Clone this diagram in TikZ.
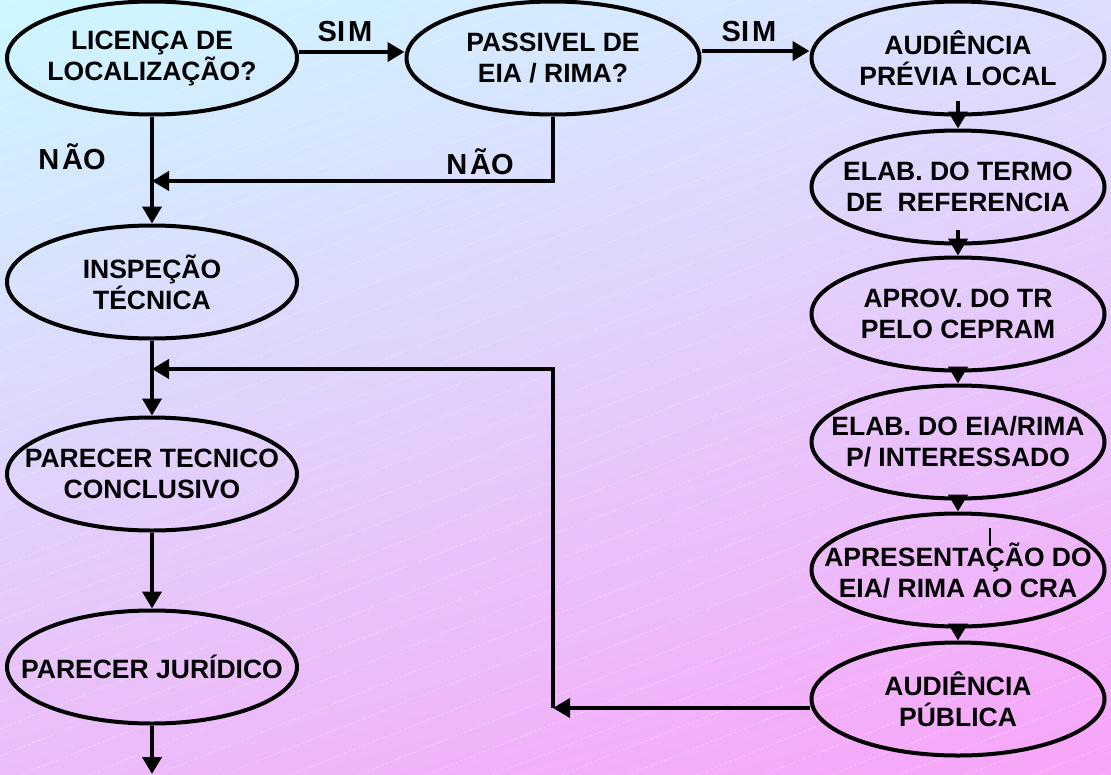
\documentclass[tikz,border=0pt]{standalone}
\usepackage{fontspec}
\setmainfont{Liberation Sans}
\usetikzlibrary{arrows.meta,shapes.geometric,shadings}
\definecolor{bgtl}{RGB}{204,248,255}
\definecolor{bgtr}{RGB}{220,222,255}
\definecolor{bgbl}{RGB}{236,188,250}
\definecolor{bgbr}{RGB}{248,164,248}
\begin{document}
\begin{tikzpicture}[x=1pt,y=-1pt,
  proc/.style={draw=black, line width=4pt, ellipse, minimum width=290pt, minimum height=113pt, inner sep=0pt},
  txt/.style={align=center, inner sep=0pt, font=\fontsize{26.5}{31}\selectfont\bfseries},
  lab/.style={inner sep=0pt, font=\fontsize{29}{31}\selectfont\bfseries},
  conn/.style={line width=4pt, -{Triangle[length=17pt,width=19pt]}},
  wire/.style={line width=4pt},
  hatch/.style={white, opacity=0.3, line width=0.8pt, dash pattern=on 3pt off 2pt}]
\useasboundingbox (0,0) rectangle (1111,774);
\shade[upper left=bgtl, upper right=bgtr, lower left=bgbl, lower right=bgbr] (0,0) rectangle (1111,774);
\begin{scope}
\clip (0,0) rectangle (1111,774);
\foreach \i in {0,...,45} {\draw[hatch] (0,\i*27) -- (1111,\i*27-444);}
\end{scope}

% left column
\node[proc] (e1) at (152,58) {};
\node[txt] (t1) at (e1) {LICENÇA DE\\LOCALIZAÇÃO?};
\node[proc] (ins) at (152,282) {};
\node[txt] (t2) at (ins) {INSPEÇÃO\\TÉCNICA};
\node[proc] (ptc) at (152,474) {};
\node[txt] (t3) at (ptc) {PARECER TECNICO\\CONCLUSIVO};
\node[proc] (pj) at (152,667) {};
\node[txt] (t4) at (pj) {PARECER JURÍDICO};

% middle
\node[proc, minimum width=293pt] (e2) at (553,58) {};
\node[txt] (t5) at (e2) {PASSIVEL DE\\EIA / RIMA?};

% right column
\node[proc, minimum width=293pt] (e3) at (958,58) {};
\node[txt] (t6) at (e3) {AUDIÊNCIA\\PRÉVIA LOCAL};
\node[proc, minimum width=293pt] (e4) at (958,187) {};
\node[txt] (t7) at (e4) {ELAB. DO TERMO\\DE\ \ REFERENCIA};
\node[proc, minimum width=293pt] (e5) at (958,314) {};
\node[txt] (t8) at (e5) {APROV. DO TR\\PELO CEPRAM};
\node[proc, minimum width=293pt] (e6) at (958,442) {};
\node[txt] (t9) at (e6) {ELAB. DO EIA/RIMA\\P/ INTERESSADO};
\node[proc, minimum width=293pt] (e7) at (958,570) {};
\node[txt] (t10) at (e7) {APRESENTAÇÃO DO\\EIA/ RIMA AO CRA};
\node[proc, minimum width=293pt] (e8) at (958,699) {};
\node[txt] (t11) at (e8) {AUDIÊNCIA\\PÚBLICA};

% labels
\node[lab] (s1) at (345,32) {SI\kern3pt M};
\node[lab] (s2) at (749,32) {SI\kern3pt M};
\node[lab] (n1) at (72,157) {N\kern3pt ÃO};
\node[lab] (n2) at (480,162) {N\kern3pt ÃO};

% helper coordinates
\coordinate (top) at (152,-10);
\coordinate (j1) at (152,181);
\coordinate (j2) at (553,708);
\coordinate (j3) at (152,369);
\coordinate (bot) at (152,774);
\coordinate (m1) at (990,528);
\coordinate (m2) at (990,546);

% connectors
\draw[wire] (top) -- (e1.north);
\draw[conn] ([yshift=6pt]e1.east) -- ([yshift=6pt]e2.west);
\draw[conn] ([yshift=7pt]e2.east) -- ([yshift=7pt]e3.west);
\draw[conn] (e1.south) -- (ins.north);
\draw[conn] (e2.south) |- (j1);
\draw[conn] (ins.south) -- (ptc.north);
\draw[conn] (ptc.south) -- (pj.north);
\draw[conn] (pj.south) -- (bot);
\draw[conn] ([yshift=16pt]e3.south) -- (e4.north);
\draw[conn] ([yshift=16pt]e4.south) -- (e5.north);
\draw[conn] (e5.south) -- (e6.north);
\draw[conn] (e6.south) -- (e7.north);
\draw[conn] (e7.south) -- (e8.north);
\draw[conn] ([yshift=-9pt]e8.west) -- (j2);
\draw[conn] (j2) |- (j3);
\draw[line width=2.5pt] (m1) -- (m2);
\end{tikzpicture}
\end{document}
